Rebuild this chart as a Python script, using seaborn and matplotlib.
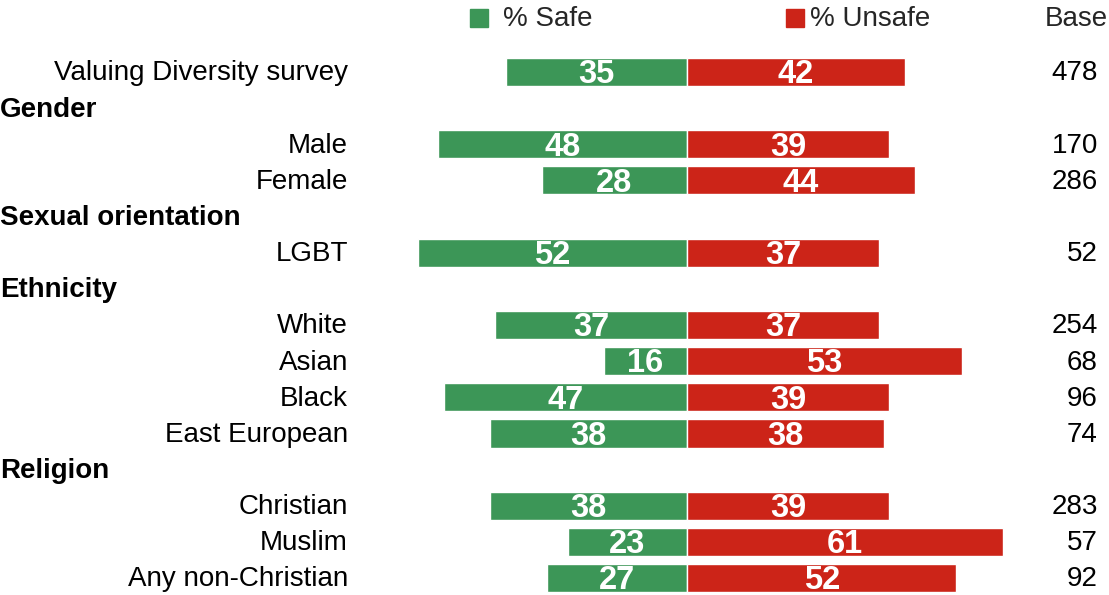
import pandas as pd
import numpy as np
import matplotlib.pyplot as plt
import seaborn as sns

# rows in display order (headers have no bars)
rows = ['Valuing Diversity survey', 'Gender', 'Male', 'Female', 'Sexual orientation', 'LGBT',
        'Ethnicity', 'White', 'Asian', 'Black', 'East European', 'Religion',
        'Christian', 'Muslim', 'Any non-Christian']
headers = ['Gender', 'Sexual orientation', 'Ethnicity', 'Religion']

groups = ['Valuing Diversity survey', 'Male', 'Female', 'LGBT', 'White', 'Asian', 'Black',
          'East European', 'Christian', 'Muslim', 'Any non-Christian']
safe = [35, 48, 28, 52, 37, 16, 47, 38, 38, 23, 27]
unsafe = [42, 39, 44, 37, 37, 53, 39, 38, 39, 61, 52]
base = [478, 170, 286, 52, 254, 68, 96, 74, 283, 57, 92]

green = '#3C9657'
red = '#CC2418'

df = pd.DataFrame({'group': groups, 'safe': safe, 'unsafe': unsafe, 'base': base})
df['neg_safe'] = -df['safe']

sns.set_theme(style='white')
plt.rcParams['font.family'] = ['Liberation Sans', 'DejaVu Sans']

fig = plt.figure(figsize=(11.09, 5.95), dpi=100)
ax = fig.add_axes([0, 0, 1, 1])

sns.barplot(data=df, x='neg_safe', y='group', order=rows, orient='h', color=green,
            saturation=1, width=0.78, edgecolor='white', linewidth=1, ax=ax)
sns.barplot(data=df, x='unsafe', y='group', order=rows, orient='h', color=red,
            saturation=1, width=0.78, edgecolor='white', linewidth=1, ax=ax)

for cont in ax.containers:
    anns = ax.bar_label(cont, fmt=lambda v: f'{abs(v):.0f}', label_type='center', color='white',
                        fontsize=23.5, fontweight='bold')
    for a in anns:
        a.xyann = (0, -2)

ax.set_xlim(-687 / 5.18, 422 / 5.18)
ax.set_ylim(14.47, -1.99)
ax.axis('off')

# row labels and base column
fs = 20
dy = 0.04
trans = ax.get_yaxis_transform()
for i, r in enumerate(rows):
    if r in headers:
        ax.text(0.0, i + dy, r, transform=trans, ha='left', va='center',
                fontsize=fs, fontweight='bold', color='black')
    else:
        ax.text(348 / 1109, i + dy, r, transform=trans, ha='right', va='center',
                fontsize=fs, color='black')
for g, b in zip(groups, base):
    ax.text(1098 / 1109, rows.index(g) + dy, str(b), transform=trans, ha='right', va='center',
            fontsize=fs, color='black')

# legend + base header
ly = -1.5
ax.plot([479 / 1109], [ly], marker='s', markersize=13.5, color=green, transform=trans, clip_on=False)
ax.text(503 / 1109, ly + dy, '% Safe', transform=trans, ha='left', va='center', fontsize=fs)
ax.plot([795 / 1109], [ly], marker='s', markersize=13.5, color=red, transform=trans, clip_on=False)
ax.text(810 / 1109, ly + dy, '% Unsafe', transform=trans, ha='left', va='center', fontsize=fs)
ax.text(1045 / 1109, ly + dy, 'Base', transform=trans, ha='left', va='center', fontsize=fs)

fig.savefig('out.png', dpi=100)
